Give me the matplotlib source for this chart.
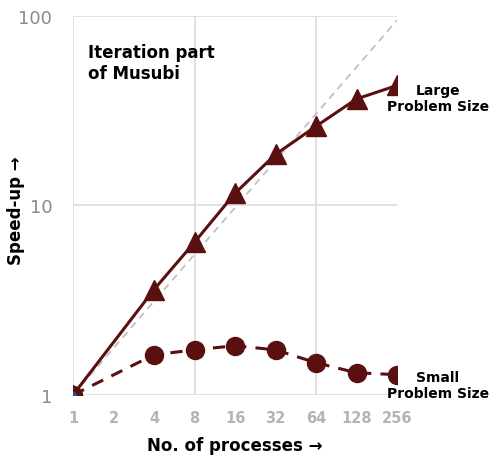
import matplotlib
matplotlib.use("Agg")
import matplotlib.pyplot as plt

# Scaling results for the iteration part of Musubi
procs = [1, 2, 4, 8, 16, 32, 64, 128, 256]
tick_labels = ["1", "2", "4", "8", "16", "32", "64", "128", "256"]

large_procs = [1, 4, 8, 16, 32, 64, 128, 256]
large_speedup = [1.0, 3.6, 6.4, 11.6, 18.6, 26.2, 36.5, 43.0]

small_procs = [1, 4, 8, 16, 32, 64, 128, 256]
small_speedup = [1.0, 1.63, 1.73, 1.82, 1.73, 1.48, 1.31, 1.28]

ideal_procs = [1, 256]
ideal_speedup = [1.0, 95.0]

dark_red = "#5a1010"

fig = plt.figure(figsize=(4.97, 4.56), dpi=100)
ax = fig.add_axes([0.1469, 0.1316, 0.6519, 0.8311])

ax.set_xscale("log", base=2)
ax.set_yscale("log")
ax.set_xlim(1, 256)
ax.set_ylim(1, 100)

for s in ax.spines.values():
    s.set_visible(False)

# Sparse grid: every third doubling and every decade
for gx in [1, 8, 64]:
    ax.axvline(gx, color="#dcdcdc", lw=1.2, zorder=0)
for gy in [1, 10, 100]:
    ax.axhline(gy, color="#dcdcdc", lw=1.2, zorder=0)

ax.plot(ideal_procs, ideal_speedup, color="#c0c0c0", lw=1.3, ls=(0, (4, 3)), zorder=1)

ax.plot(large_procs, large_speedup, color=dark_red, lw=2.2, marker="^",
        markersize=15, zorder=3)
ax.plot(small_procs, small_speedup, color=dark_red, lw=2.2, ls=(0, (4, 3)),
        marker="o", markersize=13, zorder=3)
ax.plot([1], [1], marker="o", color="#2a4a9a", markersize=4, zorder=4, lw=0)

ax.set_xticks(procs)
ax.set_xticklabels(tick_labels, fontsize=10.5, color="#b4b4b4", fontweight="bold")
ax.set_yticks([1, 10, 100])
ax.set_yticklabels(["1", "10", "100"], fontsize=13, color="#8a8a8a")
ax.minorticks_off()
ax.tick_params(axis="both", length=0)
ax.tick_params(axis="x", pad=11)
ax.tick_params(axis="y", pad=15)

ax.set_xlabel("No. of processes \u2192", fontsize=12, fontweight="bold")
ax.xaxis.set_label_coords(0.5, -0.108)
ax.set_ylabel("Speed-up \u2192", fontsize=12, fontweight="bold")
ax.yaxis.set_label_coords(-0.148, 0.49)

ax.text(0.045, 0.93, "Iteration part\nof Musubi", transform=ax.transAxes,
        fontsize=12, fontweight="bold", va="top", ha="left", linespacing=1.25)

ax.annotate("Large\nProblem Size", xy=(256, large_speedup[-1]), xytext=(29.5, -8.8),
            textcoords="offset points", fontsize=10, fontweight="bold",
            ha="center", va="center", multialignment="center",
            linespacing=1.15, annotation_clip=False)
ax.annotate("Small\nProblem Size", xy=(256, small_speedup[-1]), xytext=(29.5, -7.6),
            textcoords="offset points", fontsize=10, fontweight="bold",
            ha="center", va="center", multialignment="center",
            linespacing=1.15, annotation_clip=False)

fig.savefig("out.png", dpi=100)
